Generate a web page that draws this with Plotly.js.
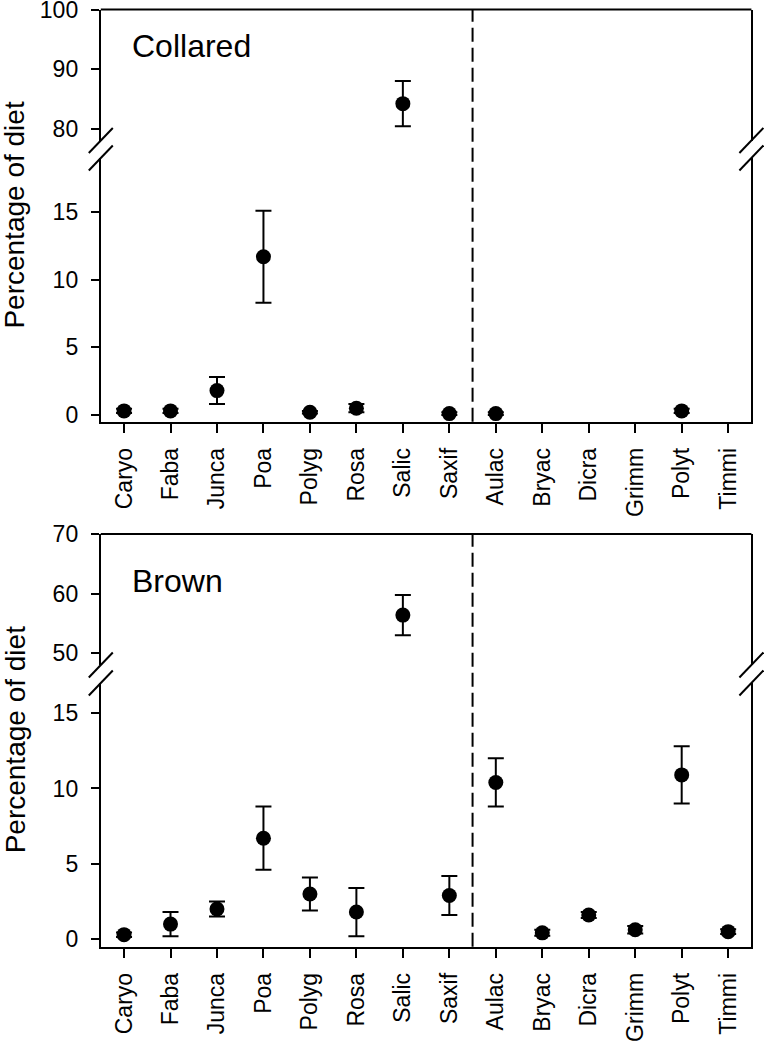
<!DOCTYPE html>
<html>
<head>
<meta charset="utf-8">
<script src="https://cdn.plot.ly/plotly-3.0.1.min.js"></script>
<style>html,body{margin:0;padding:0;background:#fff;}#chart{width:764px;height:1043px;}</style>
</head>
<body>
<div id="chart"></div>
<script>
// ---- data ----
const categories = ['Caryo','Faba','Junca','Poa','Polyg','Rosa','Salic','Saxif','Aulac','Bryac','Dicra','Grimm','Polyt','Timmi'];
const collaredMean = [0.3, 0.3, 1.8, 11.7, 0.2, 0.5, 84.2, 0.1, 0.1, null, null, null, 0.3, null];
const collaredSE   = [0.15, 0.15, 1.0, 3.4, 0.1, 0.3, 3.8, 0.1, 0.1, null, null, null, 0.15, null];
const brownMean = [0.3, 1.0, 2.0, 6.7, 3.0, 1.8, 56.4, 2.9, 10.4, 0.42, 1.6, 0.62, 10.9, 0.5];
const brownSE   = [0.15, 0.8, 0.5, 2.1, 1.1, 1.6, 3.4, 1.3, 1.6, 0.2, 0.2, 0.25, 1.9, 0.15];
const panelNames = ['Collared', 'Brown'];
const yTitle = 'Percentage of diet';
const topTicksCollared = [80, 90, 100];
const topTicksBrown = [50, 60, 70];
const lowTicks = [0, 5, 10, 15];

// ---- layout geometry (pixels -> paper) ----
const W = 764, H = 1043;
const px = v => v / W;
const py = v => 1 - v / H;
const xdom = [px(100.8), px(751.4)];
const FONT = 'Liberation Sans, Arial, Helvetica, sans-serif';

function trace(y, err, xa, ya) {
  return {
    type: 'scatter', mode: 'markers', x: categories, y: y, xaxis: xa, yaxis: ya,
    marker: {size: 15, color: '#000'},
    error_y: {type: 'data', array: err, visible: true, color: '#000', thickness: 2, width: 8},
    hoverinfo: 'skip', cliponaxis: true
  };
}

const data = [
  trace(collaredMean, collaredSE, 'x', 'y'),
  trace(collaredMean, collaredSE, 'x', 'y2'),
  trace(brownMean, brownSE, 'x2', 'y3'),
  trace(brownMean, brownSE, 'x2', 'y4')
];

const baseX = {
  type: 'category', range: [-0.5, 13.5], domain: xdom,
  showline: true, linewidth: 2, linecolor: '#000', mirror: false,
  ticks: 'outside', ticklen: 9, tickwidth: 2, tickcolor: '#000', ticklabelstandoff: 6,
  ticklabeloverflow: 'allow',
  tickangle: -90, tickfont: {family: FONT, size: 23, color: '#000'},
  showgrid: false, zeroline: false, fixedrange: true
};
function baseY(dom, range, ticks, anchor) {
  return {
    domain: dom, range: range, anchor: anchor, tickmode: 'array', tickvals: ticks,
    showline: true, linewidth: 2, linecolor: '#000', mirror: true,
    ticks: 'outside', ticklen: 8, tickwidth: 2, tickcolor: '#000', ticklabelstandoff: 8,
    ticklabeloverflow: 'allow',
    tickfont: {family: FONT, size: 23, color: '#000'},
    showgrid: false, zeroline: false, fixedrange: true
  };
}

const dom = {
  y:  [py(140.5), py(9.5)],
  y2: [py(421.7), py(158)],
  y3: [py(665), py(534)],
  y4: [py(946.7), py(683)]
};

const shapes = [];
// top borders
shapes.push({type: 'line', xref: 'x domain', yref: 'y domain', x0: 0, x1: 1, y0: 1, y1: 1, line: {color: '#000', width: 2}});
shapes.push({type: 'line', xref: 'x2 domain', yref: 'y3 domain', x0: 0, x1: 1, y0: 1, y1: 1, line: {color: '#000', width: 2}});
// dashed separators
shapes.push({type: 'line', xref: 'x', yref: 'paper', x0: 7.5, x1: 7.5, y0: dom.y2[0], y1: dom.y[1], line: {color: '#000', width: 2, dash: '14px,6px'}});
shapes.push({type: 'line', xref: 'x2', yref: 'paper', x0: 7.5, x1: 7.5, y0: dom.y4[0], y1: dom.y3[1], line: {color: '#000', width: 2, dash: '14px,6px'}});
// break marks
function slash(xc, yc) {
  shapes.push({type: 'line', xref: 'paper', yref: 'paper',
    x0: xc - 12 / W, x1: xc + 12 / W, y0: yc - 12.5 / H, y1: yc + 12.5 / H,
    line: {color: '#000', width: 2}});
}
[[dom.y[0], dom.y2[1]], [dom.y3[0], dom.y4[1]]].forEach(pair => {
  [xdom[0], xdom[1]].forEach(xc => { slash(xc, pair[0]); slash(xc, pair[1]); });
});

const annotations = [
  {text: yTitle, xref: 'paper', yref: 'paper', x: px(15), y: (dom.y[1] + dom.y2[0]) / 2, textangle: -90,
   showarrow: false, xanchor: 'center', yanchor: 'middle', font: {family: FONT, size: 28, color: '#000'}},
  {text: yTitle, xref: 'paper', yref: 'paper', x: px(15), y: (dom.y3[1] + dom.y4[0]) / 2, textangle: -90,
   showarrow: false, xanchor: 'center', yanchor: 'middle', font: {family: FONT, size: 28, color: '#000'}},
  {text: panelNames[0], xref: 'paper', yref: 'paper', x: px(130), y: py(46), showarrow: false,
   xanchor: 'left', yanchor: 'middle', font: {family: FONT, size: 32, color: '#000'}},
  {text: panelNames[1], xref: 'paper', yref: 'paper', x: px(130), y: py(581), showarrow: false,
   xanchor: 'left', yanchor: 'middle', font: {family: FONT, size: 32, color: '#000'}}
];

const layout = {
  width: W, height: H, margin: {l: 0, r: 0, t: 0, b: 0},
  paper_bgcolor: '#fff', plot_bgcolor: '#fff', showlegend: false,
  font: {family: FONT, color: '#000'},
  xaxis: Object.assign({}, baseX, {anchor: 'y2'}),
  xaxis2: Object.assign({}, baseX, {anchor: 'y4'}),
  yaxis: baseY(dom.y, [78, 100.05], topTicksCollared, 'x'),
  yaxis2: baseY(dom.y2, [-0.5, 19], lowTicks, 'x'),
  yaxis3: baseY(dom.y3, [48, 70.05], topTicksBrown, 'x2'),
  yaxis4: baseY(dom.y4, [-0.5, 17], lowTicks, 'x2'),
  shapes: shapes, annotations: annotations
};

Plotly.newPlot('chart', data, layout, {staticPlot: true, displayModeBar: false});
</script>
</body>
</html>
